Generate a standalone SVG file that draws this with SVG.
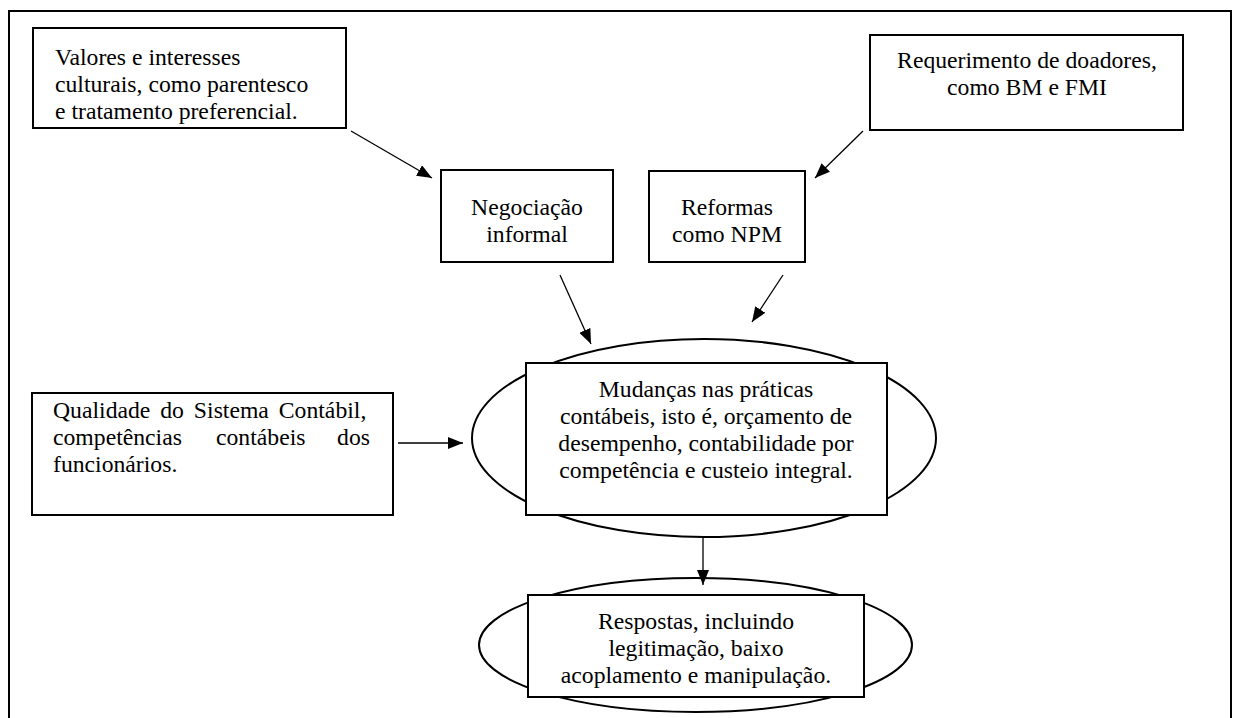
<svg xmlns="http://www.w3.org/2000/svg" width="1240" height="718" viewBox="0 0 1240 718">
<defs>
<marker id="ah" markerUnits="userSpaceOnUse" markerWidth="16" markerHeight="12" refX="15" refY="6" orient="auto">
<path d="M0,0 L15,6 L0,12 Z" fill="#000"/>
</marker>
<style>
.box{fill:#fff;stroke:#000;stroke-width:2}
.ell{fill:#fff;stroke:#000;stroke-width:2}
.t{font-family:"Liberation Serif","Times New Roman",serif;font-size:23.7px;fill:#000}
.c{text-anchor:middle}
.ln{stroke:#000;stroke-width:1.3;fill:none;marker-end:url(#ah)}
</style>
</defs>
<rect width="1240" height="718" fill="#fff"/>
<path d="M9,718 V11 H1231 V718" fill="none" stroke="#000" stroke-width="2"/>

<g id="valores">
<rect class="box" x="33" y="28" width="313" height="100"/>
<text class="t" x="55" y="65">Valores e interesses</text>
<text class="t" x="55" y="92">culturais, como parentesco</text>
<text class="t" x="55" y="119">e tratamento preferencial.</text>
</g>

<g id="requerimento">
<rect class="box" x="870" y="35" width="313" height="95"/>
<text class="t c" x="1027" y="68">Requerimento de doadores,</text>
<text class="t c" x="1027" y="95">como BM e FMI</text>
</g>

<g id="negociacao">
<rect class="box" x="441" y="170" width="172" height="92"/>
<text class="t c" x="527" y="215">Negociação</text>
<text class="t c" x="527" y="242">informal</text>
</g>

<g id="reformas">
<rect class="box" x="649" y="171" width="156" height="91"/>
<text class="t c" x="727" y="215">Reformas</text>
<text class="t c" x="727" y="242">como NPM</text>
</g>

<g id="qualidade">
<rect class="box" x="32" y="393" width="361" height="122"/>
<text class="t" x="53" y="418" word-spacing="4">Qualidade do Sistema Contábil,</text>
<text class="t" y="445"><tspan x="53">competências</tspan><tspan x="216">contábeis</tspan><tspan x="370" text-anchor="end">dos</tspan></text>
<text class="t" x="53" y="472">funcionários.</text>
</g>

<g id="mudancas">
<ellipse class="ell" cx="704" cy="438" rx="232" ry="99"/>
<rect class="box" x="526" y="363" width="361" height="152"/>
<text class="t c" x="706" y="397">Mudanças nas práticas</text>
<text class="t c" x="706" y="424">contábeis, isto é, orçamento de</text>
<text class="t c" x="706" y="451">desempenho, contabilidade por</text>
<text class="t c" x="706" y="478">competência e custeio integral.</text>
</g>

<g id="respostas">
<ellipse class="ell" cx="695.5" cy="645" rx="216.5" ry="67"/>
<rect class="box" x="528" y="595" width="336" height="102"/>
<text class="t c" x="696" y="629">Respostas, incluindo</text>
<text class="t c" x="696" y="656">legitimação, baixo</text>
<text class="t c" x="696" y="683">acoplamento e manipulação.</text>
</g>

<g id="connectors">
<line class="ln" x1="351" y1="131" x2="432" y2="178"/>
<line class="ln" x1="863" y1="131" x2="815" y2="178"/>
<line class="ln" x1="560" y1="275" x2="591" y2="344"/>
<line class="ln" x1="783" y1="275" x2="752" y2="322"/>
<line class="ln" x1="398" y1="443" x2="463" y2="443"/>
<line class="ln" x1="703" y1="537" x2="703" y2="585"/>
</g>
</svg>
